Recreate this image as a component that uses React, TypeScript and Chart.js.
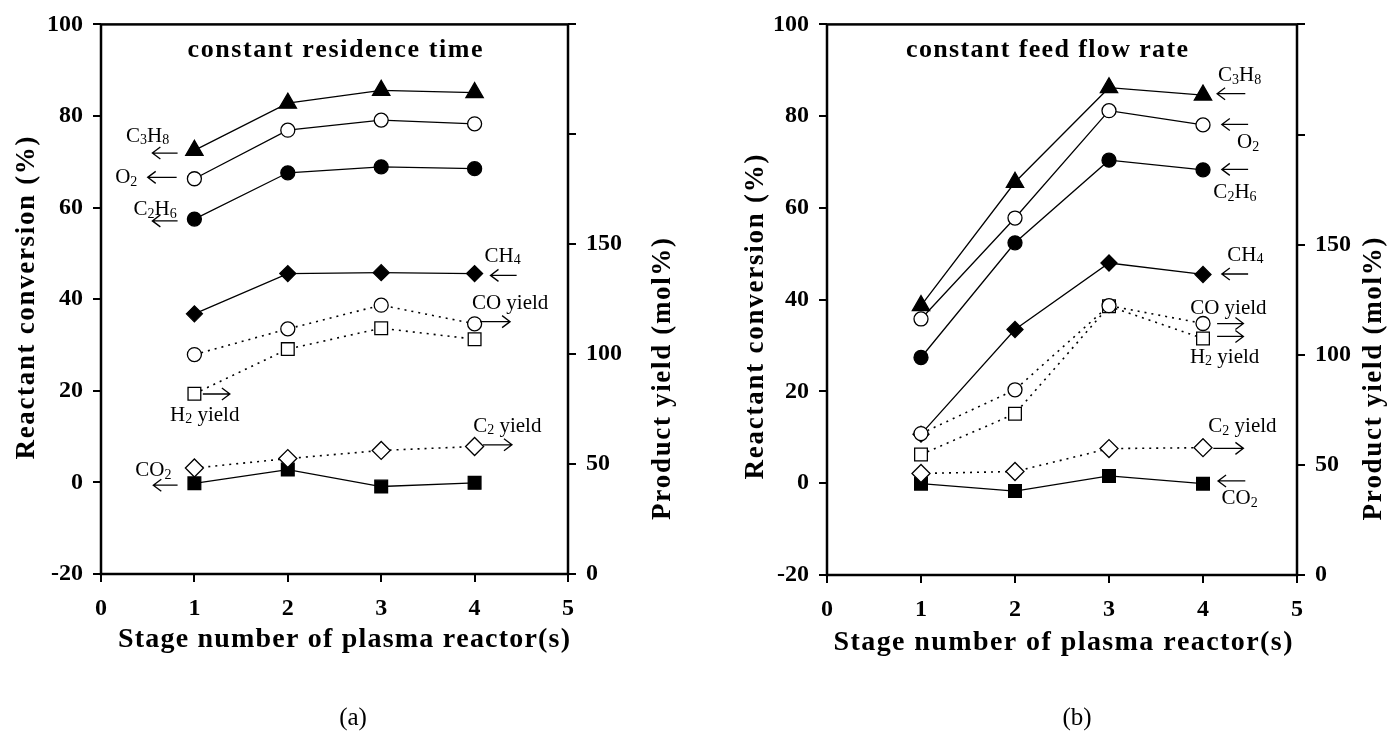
import React, { useEffect, useRef } from "react";
import { Chart, registerables } from "chart.js";

Chart.register(...registerables);

const FONT = "'Liberation Serif', 'DejaVu Serif', 'Times New Roman', serif";

// ---------- data ----------
const stages = [1, 2, 3, 4];
const xTicks = [0, 1, 2, 3, 4, 5];
const leftTicks = [-20, 0, 20, 40, 60, 80, 100];
const rightTickLabels = [0, 50, 100, 150];

// (a) constant residence time — reactant conversion (%)
const aC3H8 = [72.5, 82.8, 85.6, 85.1];
const aO2 = [66.3, 76.9, 79.1, 78.3];
const aC2H6 = [57.5, 67.6, 68.9, 68.5];
const aCH4 = [36.8, 45.6, 45.8, 45.6];
const aCO2 = [-0.2, 2.8, -0.9, -0.1];
// (a) product yield (mol%)
const aCOYield = [99.8, 111.5, 122.3, 113.8];
const aH2Yield = [82.0, 102.3, 111.8, 106.8];
const aC2Yield = [48.2, 52.5, 56.2, 58.0];

// (b) constant feed flow rate — reactant conversion (%)
const bC3H8 = [38.7, 65.6, 86.2, 84.6];
const bO2 = [35.8, 57.8, 81.2, 78.1];
const bC2H6 = [27.4, 52.4, 70.4, 68.3];
const bCH4 = [10.7, 33.5, 48.0, 45.5];
const bCO2 = [-0.1, -1.7, 1.6, -0.1];
// (b) product yield (mol%)
const bCOYield = [64.2, 84.1, 122.3, 114.2];
const bH2Yield = [54.7, 73.2, 122.0, 107.4];
const bC2Yield = [46.1, 47.0, 57.4, 57.8];

// ---------- labels ----------
const xTitle = "Stage number of plasma reactor(s)";
const leftTitle = "Reactant conversion (%)";
const rightTitle = "Product yield (mol%)";
const titleA = "constant residence time";
const titleB = "constant feed flow rate";

type Ann = { text: string; x: number; y: number };
type Arrow = { x1: number; x2: number; y: number };

const annA: Ann[] = [
  { text: "C_3H_8", x: 0.5, y: 75.6 },
  { text: "O_2", x: 0.27, y: 66.6 },
  { text: "C_2H_6", x: 0.58, y: 59.6 },
  { text: "CH_4", x: 4.3, y: 49.4 },
  { text: "CO yield", x: 4.38, y: 39.1 },
  { text: "H_2 yield", x: 1.11, y: 14.7 },
  { text: "C_2 yield", x: 4.35, y: 12.3 },
  { text: "CO_2", x: 0.56, y: 2.5 },
];
const arrowsA: Arrow[] = [
  { x1: 0.82, x2: 0.55, y: 71.9 },
  { x1: 0.81, x2: 0.5, y: 66.6 },
  { x1: 0.82, x2: 0.55, y: 57.1 },
  { x1: 4.45, x2: 4.17, y: 45.2 },
  { x1: 4.06, x2: 4.38, y: 35.1 },
  { x1: 1.09, x2: 1.38, y: 19.3 },
  { x1: 4.09, x2: 4.4, y: 8.2 },
  { x1: 0.82, x2: 0.56, y: -0.6 },
];
const annB: Ann[] = [
  { text: "C_3H_8", x: 4.39, y: 88.8 },
  { text: "O_2", x: 4.48, y: 74.3 },
  { text: "C_2H_6", x: 4.34, y: 63.4 },
  { text: "CH_4", x: 4.45, y: 49.7 },
  { text: "CO yield", x: 4.27, y: 38.0 },
  { text: "H_2 yield", x: 4.23, y: 27.5 },
  { text: "C_2 yield", x: 4.42, y: 12.4 },
  { text: "CO_2", x: 4.39, y: -3.4 },
];
const arrowsB: Arrow[] = [
  { x1: 4.45, x2: 4.15, y: 84.9 },
  { x1: 4.48, x2: 4.2, y: 78.2 },
  { x1: 4.48, x2: 4.2, y: 68.4 },
  { x1: 4.48, x2: 4.2, y: 45.6 },
  { x1: 4.15, x2: 4.43, y: 34.8 },
  { x1: 4.15, x2: 4.43, y: 32.0 },
  { x1: 4.11, x2: 4.43, y: 7.6 },
  { x1: 4.45, x2: 4.16, y: 0.5 },
];

// ---------- drawing helpers ----------
function drawSpaced(
  ctx: CanvasRenderingContext2D,
  text: string,
  cx: number,
  cy: number,
  targetW: number,
  font: string,
  rot: number
) {
  ctx.save();
  ctx.translate(cx, cy);
  ctx.rotate(rot);
  ctx.font = font;
  ctx.fillStyle = "#000";
  ctx.textBaseline = "middle";
  ctx.textAlign = "left";
  const chars = Array.from(text);
  const widths = chars.map((c) => ctx.measureText(c).width);
  const sum = widths.reduce((a, b) => a + b, 0);
  const gap = chars.length > 1 ? Math.max(0, (targetW - sum) / (chars.length - 1)) : 0;
  const total = sum + gap * (chars.length - 1);
  let x = -total / 2;
  chars.forEach((c, i) => {
    ctx.fillText(c, x, 0);
    x += widths[i] + gap;
  });
  ctx.restore();
}

function drawRich(ctx: CanvasRenderingContext2D, text: string, cx: number, cy: number, size: number) {
  const segs: { t: string; sub: boolean }[] = [];
  for (let i = 0; i < text.length; i++) {
    if (text[i] === "_" && i + 1 < text.length) {
      segs.push({ t: text[i + 1], sub: true });
      i++;
    } else {
      const last = segs[segs.length - 1];
      if (last && !last.sub) last.t += text[i];
      else segs.push({ t: text[i], sub: false });
    }
  }
  const big = `${size}px ${FONT}`;
  const small = `${Math.round(size * 0.66)}px ${FONT}`;
  ctx.save();
  ctx.fillStyle = "#000";
  ctx.textBaseline = "middle";
  ctx.textAlign = "left";
  const widths = segs.map((s) => {
    ctx.font = s.sub ? small : big;
    return ctx.measureText(s.t).width;
  });
  const total = widths.reduce((a, b) => a + b, 0);
  let x = cx - total / 2;
  segs.forEach((s, i) => {
    ctx.font = s.sub ? small : big;
    ctx.fillText(s.t, x, s.sub ? cy + size * 0.22 : cy);
    x += widths[i];
  });
  ctx.restore();
}

function drawArrow(ctx: CanvasRenderingContext2D, x1: number, x2: number, y: number) {
  const dir = x2 > x1 ? 1 : -1;
  ctx.save();
  ctx.strokeStyle = "#000";
  ctx.lineWidth = 1.3;
  ctx.beginPath();
  ctx.moveTo(x1, y);
  ctx.lineTo(x2, y);
  ctx.moveTo(x2 - dir * 8, y - 6);
  ctx.lineTo(x2, y);
  ctx.lineTo(x2 - dir * 8, y + 6);
  ctx.stroke();
  ctx.restore();
}

type PanelLayout = {
  width: number;
  leftW: number;
  rightW: number;
  padTop: number;
  padLeft: number;
  xAxisH: number;
  padBottom: number;
  plotTitle: string;
  plotTitlePos: { x: number; y: number; w: number };
  xTitlePos: { x: number; y: number; w: number };
  leftTitlePos: { x: number; y: number; w: number };
  rightTitlePos: { x: number; y: number; w: number };
  anns: Ann[];
  arrows: Arrow[];
};

type PanelData = {
  c3h8: number[];
  o2: number[];
  c2h6: number[];
  ch4: number[];
  co2: number[];
  coY: number[];
  h2Y: number[];
  c2Y: number[];
};

const layoutA: PanelLayout = {
  width: 700,
  leftW: 101,
  rightW: 132,
  padTop: 23,
  padLeft: 0,
  xAxisH: 80,
  padBottom: 92,
  plotTitle: titleA,
  plotTitlePos: { x: 335, y: 50, w: 295 },
  xTitlePos: { x: 344, y: 640, w: 452 },
  leftTitlePos: { x: 27, y: 298, w: 323 },
  rightTitlePos: { x: 663, y: 379, w: 282 },
  anns: annA,
  arrows: arrowsA,
};

const layoutB: PanelLayout = {
  width: 689,
  leftW: 127,
  rightW: 92,
  padTop: 22,
  padLeft: 0,
  xAxisH: 80,
  padBottom: 91,
  plotTitle: titleB,
  plotTitlePos: { x: 347, y: 50, w: 282 },
  xTitlePos: { x: 363, y: 643, w: 459 },
  leftTitlePos: { x: 56, y: 317, w: 325 },
  rightTitlePos: { x: 674, y: 379, w: 283 },
  anns: annB,
  arrows: arrowsB,
};

const dataA: PanelData = {
  c3h8: aC3H8, o2: aO2, c2h6: aC2H6, ch4: aCH4, co2: aCO2,
  coY: aCOYield, h2Y: aH2Yield, c2Y: aC2Yield,
};
const dataB: PanelData = {
  c3h8: bC3H8, o2: bO2, c2h6: bC2H6, ch4: bCH4, co2: bCO2,
  coY: bCOYield, h2Y: bH2Yield, c2Y: bC2Yield,
};

function pts(vals: number[]) {
  return stages.map((x, i) => ({ x, y: vals[i] }));
}

function series(
  label: string,
  vals: number[],
  axis: string,
  style: string,
  radius: number,
  filled: boolean,
  dashed: boolean,
  order: number
) {
  return {
    label,
    data: pts(vals),
    yAxisID: axis,
    borderColor: "#000",
    backgroundColor: filled ? "#000" : "#fff",
    borderWidth: dashed ? 1.6 : 1.3,
    borderDash: dashed ? [2, 5] : [],
    pointStyle: style,
    pointRadius: radius,
    pointBorderWidth: 1.3,
    pointBorderColor: "#000",
    pointBackgroundColor: filled ? "#000" : "#fff",
    tension: 0,
    fill: false,
    order,
  };
}

function buildConfig(d: PanelData, L: PanelLayout): any {
  const tickFont = { family: FONT, size: 24, weight: "bold" as const };
  const overlay = {
    id: "overlay",
    beforeDatasetsDraw(chart: any) {
      const { ctx, chartArea } = chart;
      ctx.save();
      ctx.strokeStyle = "#000";
      ctx.lineWidth = 2.5;
      ctx.strokeRect(chartArea.left, chartArea.top, chartArea.right - chartArea.left, chartArea.bottom - chartArea.top);
      ctx.restore();
    },
    afterDatasetsDraw(chart: any) {
      const { ctx } = chart;
      const sx = chart.scales.x;
      const sy = chart.scales.y;
      L.arrows.forEach((a) => {
        drawArrow(ctx, sx.getPixelForValue(a.x1), sx.getPixelForValue(a.x2), sy.getPixelForValue(a.y));
      });
      L.anns.forEach((a) => {
        drawRich(ctx, a.text, sx.getPixelForValue(a.x), sy.getPixelForValue(a.y), 21);
      });
      const bold = (s: number) => `bold ${s}px ${FONT}`;
      drawSpaced(ctx, L.plotTitle, L.plotTitlePos.x, L.plotTitlePos.y, L.plotTitlePos.w, bold(26), 0);
      drawSpaced(ctx, xTitle, L.xTitlePos.x, L.xTitlePos.y, L.xTitlePos.w, bold(28), 0);
      drawSpaced(ctx, leftTitle, L.leftTitlePos.x, L.leftTitlePos.y, L.leftTitlePos.w, bold(27), -Math.PI / 2);
      drawSpaced(ctx, rightTitle, L.rightTitlePos.x, L.rightTitlePos.y, L.rightTitlePos.w, bold(27), -Math.PI / 2);
    },
  };

  return {
    type: "line",
    data: {
      datasets: [
        series("CO yield", d.coY, "y1", "circle", 7, false, true, 0),
        series("H2 yield", d.h2Y, "y1", "rect", 9, false, true, 0),
        series("C2 yield", d.c2Y, "y1", "rectRot", 9, false, true, 0),
        series("C3H8", d.c3h8, "y", "triangle", 10, true, false, 1),
        series("O2", d.o2, "y", "circle", 7, false, false, 1),
        series("C2H6", d.c2h6, "y", "circle", 7, true, false, 1),
        series("CH4", d.ch4, "y", "rectRot", 8, true, false, 1),
        series("CO2", d.co2, "y", "rect", 9, true, false, 1),
      ],
    },
    options: {
      responsive: false,
      animation: false,
      devicePixelRatio: 1,
      events: [],
      layout: {
        padding: { top: L.padTop, left: L.padLeft, right: 0, bottom: L.padBottom },
      },
      plugins: {
        legend: { display: false },
        tooltip: { enabled: false },
        title: { display: false },
      },
      scales: {
        x: {
          type: "linear",
          min: 0,
          max: 5,
          afterFit: (s: any) => {
            s.height = L.xAxisH;
          },
          afterBuildTicks: (s: any) => {
            s.ticks = xTicks.map((v) => ({ value: v }));
          },
          ticks: { font: tickFont, color: "#000", padding: 12, maxRotation: 0, callback: (v: any) => String(v) },
          grid: { drawOnChartArea: false, drawTicks: true, tickLength: 8, color: "#000", lineWidth: 2 },
          border: { display: false },
          title: { display: false },
        },
        y: {
          type: "linear",
          position: "left",
          min: -20,
          max: 100,
          afterFit: (s: any) => {
            s.width = L.leftW;
          },
          afterBuildTicks: (s: any) => {
            s.ticks = leftTicks.map((v) => ({ value: v }));
          },
          ticks: { font: tickFont, color: "#000", padding: 10, callback: (v: any) => String(v) },
          grid: { drawOnChartArea: false, drawTicks: true, tickLength: 8, color: "#000", lineWidth: 2 },
          border: { display: false },
          title: { display: false },
        },
        y1: {
          type: "linear",
          position: "right",
          min: 0,
          max: 250,
          afterFit: (s: any) => {
            s.width = L.rightW;
          },
          ticks: {
            stepSize: 50,
            font: tickFont,
            color: "#000",
            padding: 10,
            callback: (v: any) => (rightTickLabels.includes(Number(v)) ? String(v) : ""),
          },
          grid: { drawOnChartArea: false, drawTicks: true, tickLength: 8, color: "#000", lineWidth: 2 },
          border: { display: false },
          title: { display: false },
        },
      },
    },
    plugins: [overlay],
  };
}

export default function App() {
  const refA = useRef<HTMLCanvasElement>(null);
  const refB = useRef<HTMLCanvasElement>(null);

  useEffect(() => {
    if (!refA.current || !refB.current) return;
    const ca = new Chart(refA.current, buildConfig(dataA, layoutA));
    const cb = new Chart(refB.current, buildConfig(dataB, layoutB));
    return () => {
      ca.destroy();
      cb.destroy();
    };
  }, []);

  const capStyle: React.CSSProperties = {
    position: "absolute",
    top: 702,
    width: 100,
    textAlign: "center",
    fontFamily: FONT,
    fontSize: 25,
    lineHeight: "30px",
    color: "#000",
  };

  return (
    <div style={{ position: "absolute", left: 0, top: 0, width: 1389, height: 746, background: "#fff", overflow: "hidden" }}>
      <canvas
        ref={refA}
        width={700}
        height={746}
        style={{ position: "absolute", left: 0, top: 0, width: 700, height: 746 }}
      />
      <canvas
        ref={refB}
        width={689}
        height={746}
        style={{ position: "absolute", left: 700, top: 0, width: 689, height: 746 }}
      />
      <div style={{ ...capStyle, left: 303 }}>(a)</div>
      <div style={{ ...capStyle, left: 1027 }}>(b)</div>
    </div>
  );
}
